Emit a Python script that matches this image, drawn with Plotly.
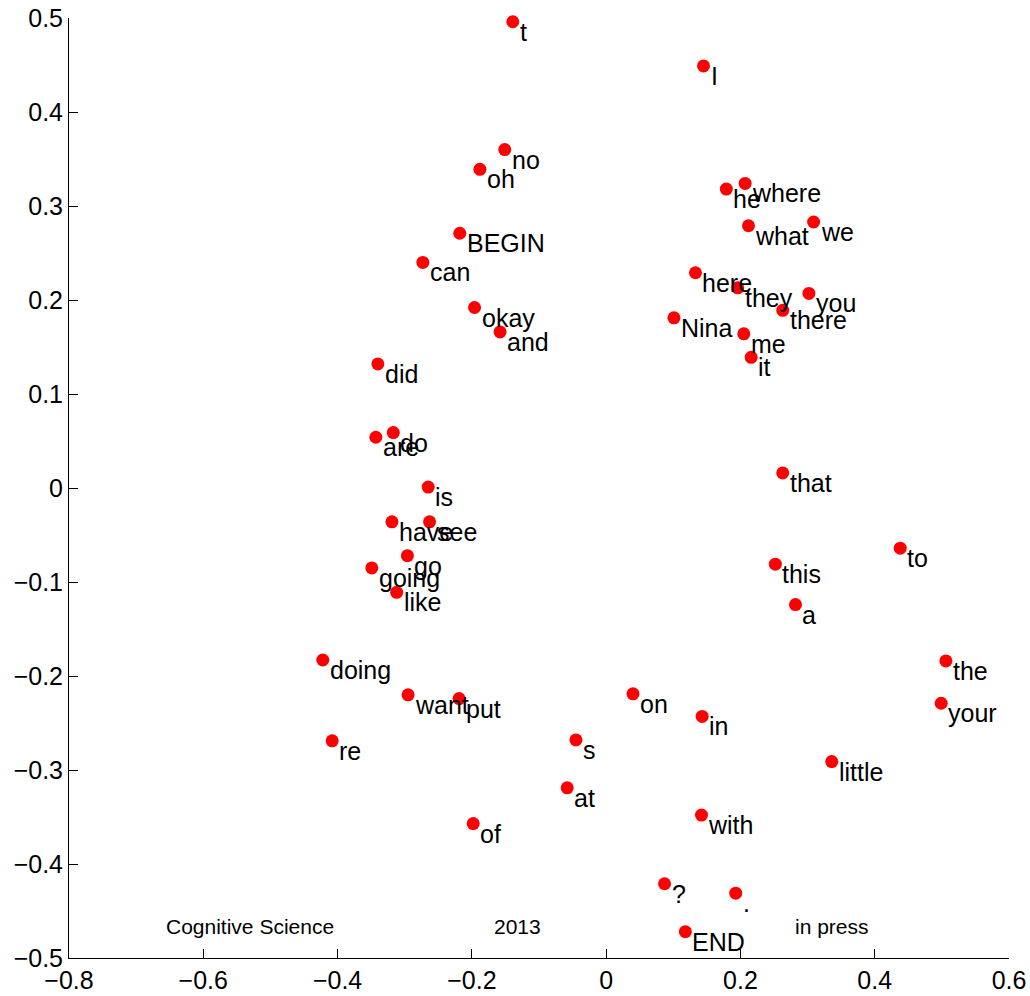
import plotly.graph_objects as go

# 2-D embedding of frequent child-directed words
words = ["t", "I", "no", "oh", "he", "where", "what", "we", "BEGIN", "can",
         "here", "they", "you", "there", "okay", "and", "Nina", "me", "it", "did",
         "do", "are", "that", "is", "have", "see", "go", "going", "like", "to",
         "this", "a", "doing", "the", "want", "put", "on", "your", "in", "s",
         "re", "little", "at", "with", "of", "?", ".", "END"]
x_vals = [-0.139, 0.145, -0.151, -0.188, 0.179, 0.207, 0.212, 0.309, -0.218, -0.273,
          0.133, 0.196, 0.302, 0.263, -0.196, -0.158, 0.101, 0.205, 0.216, -0.340,
          -0.317, -0.343, 0.263, -0.265, -0.319, -0.263, -0.296, -0.349, -0.312, 0.438,
          0.252, 0.282, -0.422, 0.506, -0.295, -0.219, 0.040, 0.499, 0.143, -0.045,
          -0.408, 0.336, -0.058, 0.142, -0.198, 0.087, 0.193, 0.118]
y_vals = [0.496, 0.449, 0.360, 0.339, 0.318, 0.324, 0.279, 0.283, 0.271, 0.240,
          0.229, 0.213, 0.207, 0.189, 0.192, 0.166, 0.181, 0.164, 0.139, 0.132,
          0.059, 0.054, 0.016, 0.001, -0.036, -0.036, -0.072, -0.085, -0.111, -0.064,
          -0.081, -0.124, -0.183, -0.184, -0.220, -0.224, -0.219, -0.229, -0.243, -0.268,
          -0.269, -0.291, -0.319, -0.348, -0.357, -0.421, -0.431, -0.472]

FONT = "Liberation Sans, Arial, Helvetica, sans-serif"

fig = go.Figure()
fig.add_trace(go.Scatter(
    x=x_vals, y=y_vals, mode="markers",
    marker=dict(color="#ff0000", size=13, line=dict(width=0)),
    hoverinfo="skip", showlegend=False, cliponaxis=False,
))

# word labels sit just below-right of each dot
annotations = [
    dict(x=xv, y=yv, text=w, xref="x", yref="y", showarrow=False,
         xanchor="left", yanchor="middle", xshift=5, yshift=-10,
         font=dict(family=FONT, size=25, color="black"))
    for w, xv, yv in zip(words, x_vals, y_vals)
]

# footer notes inside the axes
for txt, xv in [("Cognitive Science", -0.531), ("2013", -0.132), ("in press", 0.336)]:
    annotations.append(dict(x=xv, y=-0.466, text=txt, xref="x", yref="y",
                            showarrow=False, xanchor="center", yanchor="middle",
                            font=dict(family=FONT, size=21, color="black")))

axis_common = dict(
    showgrid=False, zeroline=False, showline=True, linecolor="black", linewidth=1,
    ticks="inside", ticklen=9, tickwidth=1, tickcolor="black", mirror=False,
    tickfont=dict(family=FONT, size=25, color="black"), automargin=False,
)

fig.update_layout(
    width=1030, height=996,
    margin=dict(l=69, r=21, t=18, b=38),
    paper_bgcolor="white", plot_bgcolor="white",
    xaxis=dict(range=[-0.8, 0.6], tick0=-0.8, dtick=0.2, **axis_common),
    yaxis=dict(range=[-0.5, 0.5], tick0=-0.5, dtick=0.1, **axis_common),
    annotations=annotations,
)

fig.write_html("out.html")
